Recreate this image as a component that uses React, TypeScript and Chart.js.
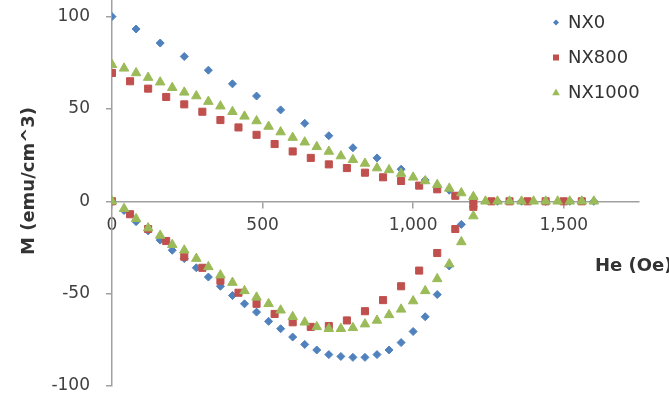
import React, { useEffect, useRef } from 'react';
import { Chart, registerables } from 'chart.js';

Chart.register(...registerables);

// ---- data (H in Oe, M in emu/cm^3) ----
const H40_TO_1200 = [0, 40, 80, 120, 160, 200, 240, 280, 320, 360, 400, 440, 480, 520, 560, 600, 640, 680, 720, 760, 800, 840, 880, 920, 960, 1000, 1040, 1080, 1120, 1160, 1200];
const H60_TO_1200 = [0, 60, 120, 180, 240, 300, 360, 420, 480, 540, 600, 660, 720, 780, 840, 900, 960, 1020, 1080, 1140, 1200];

const nx0UpperH = [0, 80, 160, 240, 320, 400, 480, 560, 640, 720, 800, 880, 960, 1040, 1120, 1200, 1280, 1360, 1440, 1520, 1600];
const nx0UpperM = [100, 93.3, 85.7, 78.4, 71, 63.6, 57, 49.5, 42.2, 35.5, 29, 23.5, 17.4, 11.5, 6, 1, 0, 0, 0, 0, 0];
const nx0LowerH = H40_TO_1200;
const nx0LowerM = [0, -5, -11, -16, -21, -26.5, -31, -36, -41, -46, -51, -55.5, -60, -65, -69, -73.5, -77.5, -80.5, -83, -84, -84.5, -84.5, -83, -80.5, -76.5, -70.5, -62.5, -50.5, -35, -12.5, -3];

const nx800UpperH = [0, 60, 120, 180, 240, 300, 360, 420, 480, 540, 600, 660, 720, 780, 840, 900, 960, 1020, 1080, 1140, 1200, 1260, 1320, 1380, 1440, 1500, 1560];
const nx800UpperM = [69.5, 65, 61, 56.5, 52.5, 48.5, 44, 40, 36, 31, 27, 23.5, 20, 18, 15.5, 13, 11, 8.5, 6.5, 3, 0.5, 0, 0, 0, 0, 0, 0];
const nx800LowerH = H60_TO_1200;
const nx800LowerM = [0, -7, -15, -21.5, -30, -36, -43, -49.5, -55.5, -61, -65.5, -68, -67.5, -64.5, -59.5, -53.5, -46, -37.5, -28, -15, -3];

const nx1000UpperH = [0, 40, 80, 120, 160, 200, 240, 280, 320, 360, 400, 440, 480, 520, 560, 600, 640, 680, 720, 760, 800, 840, 880, 920, 960, 1000, 1040, 1080, 1120, 1160, 1200, 1240, 1280, 1320, 1360, 1400, 1440, 1480, 1520, 1560, 1600];
const nx1000UpperM = [74, 72, 69.5, 67, 64.5, 61.5, 59, 57, 54, 51.5, 48.5, 46, 43.5, 40.5, 37.5, 34.5, 32, 29.5, 27, 24.5, 22.5, 20.5, 18, 17, 15, 13, 11, 9, 7, 4.5, 2.5, 0, 0, 0, 0, 0, 0, 0, 0, 0, 0];
const nx1000LowerH = H40_TO_1200;
const nx1000LowerM = [0, -4, -9.5, -14.5, -18.5, -23.5, -26.5, -31, -35.5, -40, -44, -48.5, -52, -55.5, -59, -62.5, -65.5, -68, -69, -69, -68.5, -66.5, -64.5, -61.5, -58.5, -54, -48.5, -42, -34, -22, -8];

const SERIES_NAMES = ['NX0', 'NX800', 'NX1000'];
const X_TICKS = [0, 500, 1000, 1500];
const Y_TICKS = [-100, -50, 0, 50, 100];
const X_TITLE = 'He (Oe)';
const Y_TITLE = 'M (emu/cm^3)';

const BLUE = '#4F81BD';
const RED = '#C0504D';
const GREEN = '#9BBB59';
const AXIS = '#A0A0A0';
const TEXT = '#404040';
const FONT = 'DejaVu Sans';

const pts = (hs: number[], ms: number[]) => hs.map((h, i) => ({ x: h, y: ms[i] }));

function drawMarker(ctx: CanvasRenderingContext2D, style: string, x: number, y: number, r: number, color: string) {
  ctx.save();
  ctx.fillStyle = color;
  ctx.beginPath();
  if (style === 'rectRot') {
    ctx.moveTo(x - r, y);
    ctx.lineTo(x, y - r);
    ctx.lineTo(x + r, y);
    ctx.lineTo(x, y + r);
  } else if (style === 'rect') {
    ctx.rect(x - r, y - r, 2 * r, 2 * r);
  } else {
    ctx.moveTo(x, y - r);
    ctx.lineTo(x + r * 0.95, y + r * 0.7);
    ctx.lineTo(x - r * 0.95, y + r * 0.7);
  }
  ctx.closePath();
  ctx.fill();
  ctx.restore();
}

const decorPlugin = {
  id: 'decor',
  afterDraw(chart: any) {
    const ctx: CanvasRenderingContext2D = chart.ctx;
    ctx.save();
    // axis titles
    ctx.fillStyle = '#333333';
    ctx.font = `bold 18px "${FONT}"`;
    ctx.textAlign = 'left';
    ctx.textBaseline = 'middle';
    ctx.fillText(X_TITLE, 595, 266);
    ctx.save();
    ctx.translate(29, 181);
    ctx.rotate(-Math.PI / 2);
    ctx.textAlign = 'center';
    ctx.fillText(Y_TITLE, 0, 0);
    ctx.restore();
    // legend
    const styles = ['rectRot', 'rect', 'triangle'];
    const colors = [BLUE, RED, GREEN];
    const sizes = [3, 3, 4];
    ctx.font = `18px "${FONT}"`;
    SERIES_NAMES.forEach((name, i) => {
      const y = 22.5 + i * 35;
      drawMarker(ctx, styles[i], 556, y, sizes[i], colors[i]);
      ctx.fillStyle = '#333333';
      ctx.textAlign = 'left';
      ctx.textBaseline = 'middle';
      ctx.fillText(name, 568, y + 1);
    });
    ctx.restore();
  },
};

export default function App() {
  const ref = useRef<HTMLCanvasElement>(null);
  useEffect(() => {
    if (!ref.current) return;
    const chart = new Chart(ref.current, {
      type: 'scatter',
      data: {
        datasets: [
          {
            label: SERIES_NAMES[0],
            data: [...pts(nx0UpperH, nx0UpperM), ...pts(nx0LowerH, nx0LowerM)],
            pointStyle: 'rectRot',
            pointRadius: 4,
            backgroundColor: BLUE,
            borderColor: BLUE,
            borderWidth: 1,
            order: 2,
          },
          {
            label: SERIES_NAMES[1],
            data: [...pts(nx800UpperH, nx800UpperM), ...pts(nx800LowerH, nx800LowerM)],
            pointStyle: 'rect',
            pointRadius: 5,
            backgroundColor: RED,
            borderColor: RED,
            borderWidth: 1,
            order: 1,
          },
          {
            label: SERIES_NAMES[2],
            data: [...pts(nx1000UpperH, nx1000UpperM), ...pts(nx1000LowerH, nx1000LowerM)],
            pointStyle: 'triangle',
            pointRadius: 5.5,
            backgroundColor: GREEN,
            borderColor: GREEN,
            borderWidth: 1,
            order: 0,
          },
        ],
      },
      options: {
        animation: false,
        responsive: true,
        maintainAspectRatio: false,
        layout: { autoPadding: false, padding: { top: 0, right: 30, bottom: 11, left: 0 } },
        plugins: { legend: { display: false }, tooltip: { enabled: false } },
        scales: {
          x: {
            type: 'linear',
            position: { y: 0 } as any,
            min: 0,
            max: 1750,
            afterFit: (s: any) => {
              s.paddingLeft = 0;
              s.paddingRight = 0;
              s.paddingTop = 0;
              s.paddingBottom = 0;
            },
            afterBuildTicks: (s: any) => {
              s.ticks = X_TICKS.map((v) => ({ value: v }));
            },
            ticks: {
              font: { family: FONT, size: 17 },
              color: TEXT,
              padding: 8,
              maxRotation: 0,
              autoSkip: false,
              callback: (v: any) => Number(v).toLocaleString('en-US'),
            },
            grid: { drawOnChartArea: false, drawTicks: true, tickLength: 6, color: AXIS, lineWidth: 1.5 },
            border: { display: true, color: AXIS, width: 1.5 },
          },
          y: {
            type: 'linear',
            position: 'left',
            min: -100,
            max: 109,
            afterFit: (s: any) => {
              s.width = 112;
              s.paddingTop = 0;
              s.paddingBottom = 0;
              s.paddingLeft = 0;
              s.paddingRight = 0;
            },
            afterBuildTicks: (s: any) => {
              s.ticks = Y_TICKS.map((v) => ({ value: v }));
            },
            ticks: {
              font: { family: FONT, size: 17 },
              color: TEXT,
              padding: 16,
              callback: (v: any) => String(v),
            },
            grid: { drawOnChartArea: false, drawTicks: true, tickLength: 6, color: AXIS, lineWidth: 1.5 },
            border: { display: true, color: AXIS, width: 1.5 },
          },
        },
      } as any,
      plugins: [decorPlugin],
    });
    return () => chart.destroy();
  }, []);
  return (
    <div style={{ position: 'absolute', left: 0, top: 0, width: 669, height: 397, background: '#fff' }}>
      <canvas ref={ref} />
    </div>
  );
}
